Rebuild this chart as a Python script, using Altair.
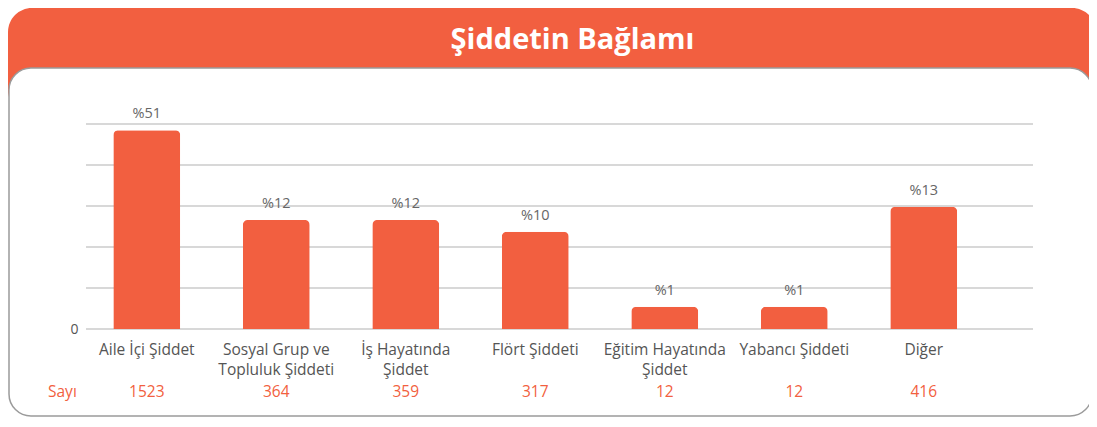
import altair as alt
import pandas as pd

# ---- data ----
categories = ["Aile İçi Şiddet", "Sosyal Grup ve\nTopluluk Şiddeti", "İş Hayatında\nŞiddet",
              "Flört Şiddeti", "Eğitim Hayatında\nŞiddet", "Yabancı Şiddeti", "Diğer"]
percent_labels = ["%51", "%12", "%12", "%10", "%1", "%1", "%13"]
counts = [1523, 364, 359, 317, 12, 12, 416]
# bar heights as drawn in the picture (in grid units, 0..5)
bar_heights = [4.85, 2.66, 2.66, 2.37, 0.54, 0.54, 2.98]
grid_values = [0, 1, 2, 3, 4, 5]
title_text = "Şiddetin Bağlamı"
row_label = "Sayı"

ORANGE = "#F25F40"
FONT = "Open Sans"
W, H = 947, 205

df = pd.DataFrame({
    "cat": categories,
    "h": bar_heights,
    "pct": percent_labels,
    "n": [str(c) for c in counts],
})
one = pd.DataFrame({"a": [0]})

xscale = alt.Scale(paddingInner=0.483, paddingOuter=0.398, align=0.265)
X = alt.X("cat:N", sort=categories, scale=xscale,
          axis=alt.Axis(labels=False, ticks=False, domain=False, grid=False, title=None))
yscale = alt.Scale(domain=[0, 5], nice=False, zero=True)

# background: orange header and white rounded panel
header = alt.Chart(one).mark_rect(color=ORANGE, cornerRadius=24).encode(
    x=alt.value(-78), x2=alt.value(1010), y=alt.value(-116), y2=alt.value(-10)
)
panel = alt.Chart(one).mark_rect(
    fill="white", stroke="#9b9b9b", strokeWidth=1.5, cornerRadius=22
).encode(
    x=alt.value(-77), x2=alt.value(1006), y=alt.value(-56), y2=alt.value(292)
)
title = alt.Chart(one).mark_text(
    text=title_text, font=FONT, fontSize=29, fontWeight="bold", color="white",
    align="center", baseline="alphabetic"
).encode(x=alt.value(486.5), y=alt.value(-75))

grid = alt.Chart(pd.DataFrame({"g": grid_values})).mark_rule(
    color="#d8d8d8", strokeWidth=2
).encode(
    y=alt.Y("g:Q", scale=yscale,
            axis=alt.Axis(values=[0], labelExpr="datum.value == 0 ? '0' : ''",
                          grid=False, ticks=False, domain=False, title=None,
                          labelFont=FONT, labelFontSize=14, labelColor="#555555",
                          labelPadding=8, zindex=2)),
    x=alt.value(0), x2=alt.value(W)
)

base = alt.Chart(df)
bars = base.mark_bar(color=ORANGE, cornerRadiusTopLeft=5, cornerRadiusTopRight=5).encode(
    x=X, y=alt.Y("h:Q", scale=yscale)
)
pct = base.mark_text(font=FONT, fontSize=14.5, color="#666666", baseline="alphabetic", dy=-12).encode(
    x=X, y=alt.Y("h:Q", scale=yscale), text="pct:N"
)
xlabels = base.mark_text(font=FONT, fontSize=15.5, color="#555555", baseline="alphabetic",
                         lineBreak="\n", lineHeight=20).encode(
    x=X, y=alt.value(231), text="cat:N"
)
nlabels = base.mark_text(font=FONT, fontSize=15.5, color=ORANGE, baseline="alphabetic").encode(
    x=X, y=alt.value(273), text="n:N"
)
sayi = alt.Chart(one).mark_text(text=row_label, font=FONT, fontSize=15.5, color=ORANGE,
                                align="left", baseline="alphabetic").encode(
    x=alt.value(-38), y=alt.value(273)
)

chart = alt.layer(header, panel, title, grid, bars, pct, xlabels, nlabels, sayi).properties(
    width=W, height=H,
    autosize=alt.AutoSizeParams(type="none"),
    padding={"left": 78, "top": 116, "right": 56, "bottom": 90},
).configure_view(stroke=None)

chart.save("out.html", embed_options={"renderer": "svg", "actions": False})
